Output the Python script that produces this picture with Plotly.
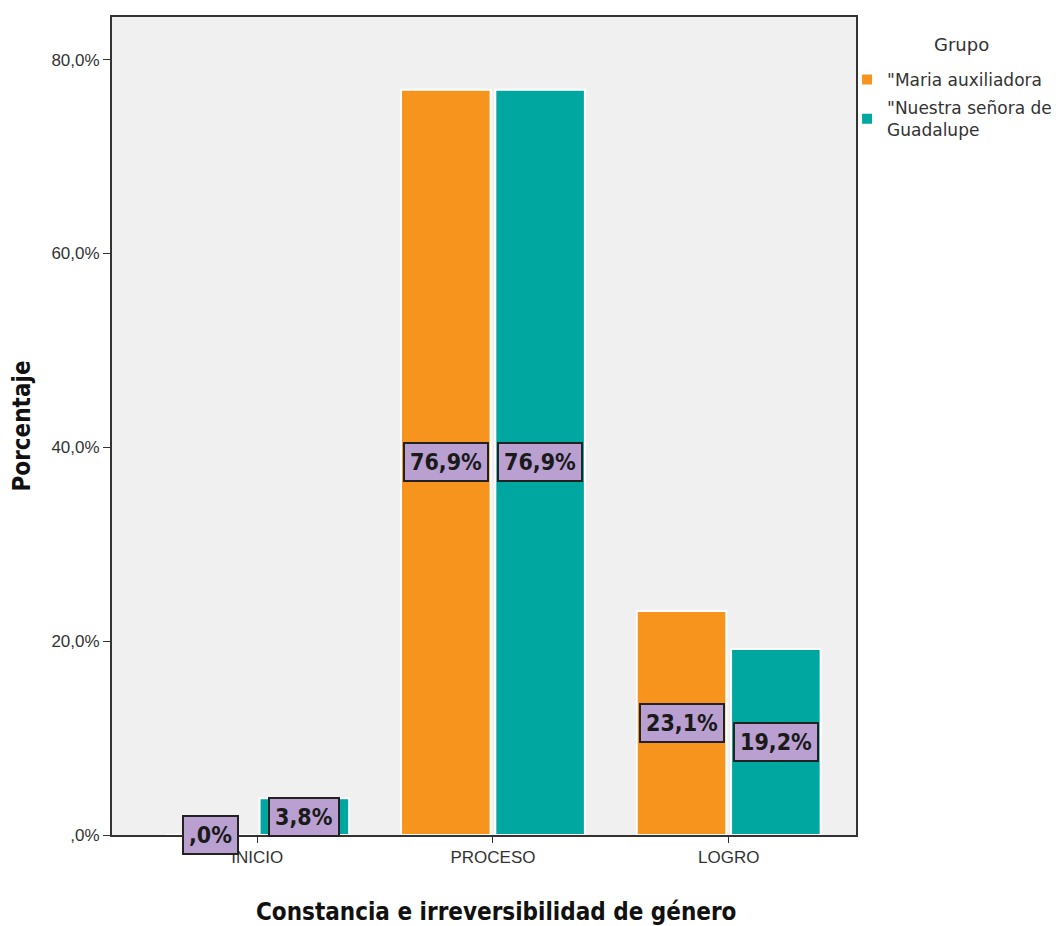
import plotly.graph_objects as go

categories = ["INICIO", "PROCESO", "LOGRO"]
series_names = ['"Maria auxiliadora', '"Nuestra señora de<br>Guadalupe']
maria = [0.0, 76.9, 23.1]
guadalupe = [3.8, 76.9, 19.2]
y_tick_vals = [0, 20, 40, 60, 80]
y_tick_text = [",0%", "20,0%", "40,0%", "60,0%", "80,0%"]

colors = ["#F7941D", "#00A6A0"]
cond_font = "DejaVu Sans Condensed, Roboto Condensed, Liberation Sans Narrow, DejaVu Sans, sans-serif"
tick_font = dict(family="Liberation Sans, Arial, sans-serif", size=17, color="#333333")
legend_font_family = "DejaVu Sans, Liberation Sans, Arial, sans-serif"


def fmt(v):
    s = f"{v:.1f}".replace(".", ",")
    if s.startswith("0"):
        s = s[1:]
    return s + "%"


fig = go.Figure()
for k, (name, vals, col) in enumerate(zip(series_names, [maria, guadalupe], colors)):
    fig.add_trace(go.Bar(
        x=categories, y=vals, name=name, legendgroup=f"g{k}",
        marker=dict(color=col, line=dict(color="white", width=2)),
        hoverinfo="skip",
    ))

offsets = [-0.2, 0.2]
for s, vals in enumerate([maria, guadalupe]):
    for i, v in enumerate(vals):
        fig.add_annotation(
            x=i + offsets[s], y=v / 2, xref="x", yref="y",
            text=fmt(v), showarrow=False,
            font=dict(family=cond_font, size=23, color="#1a1a1a", weight="bold"),
            bgcolor="#B9A0D0", bordercolor="#222222", borderwidth=2, borderpad=5,
        )

W, H = 1056, 918
L, T = 102, 7
PW, PH = 750, 820

# axis title and legend title as annotations
fig.add_annotation(
    x=0.5, y=0, xref="paper", yref="paper", xshift=12, yshift=-77,
    xanchor="center", yanchor="middle", showarrow=False,
    text="Constancia e irreversibilidad de género",
    font=dict(family=cond_font, size=24, color="#111111", weight="bold"),
)
fig.add_annotation(
    x=1.0, y=1.0, xref="paper", yref="paper", xshift=105, yshift=-27,
    xanchor="center", yanchor="middle", showarrow=False,
    text="Grupo",
    font=dict(family=legend_font_family, size=18, color="#333333"),
)

fig.update_layout(
    width=W, height=H,
    paper_bgcolor="white", plot_bgcolor="#F0F0F0",
    margin=dict(l=L, r=W - L - PW, t=T, b=H - T - PH),
    barmode="group", bargap=0.2, bargroupgap=0.05,
    showlegend=True,
    legend=dict(
        x=0.988, xanchor="left", y=0.945, yanchor="top",
        font=dict(family=legend_font_family, size=17, color="#333333"),
        itemsizing="constant", tracegroupgap=3, itemwidth=30,
        traceorder="grouped",
        bgcolor="rgba(0,0,0,0)",
    ),
    xaxis=dict(
        range=[-0.616, 2.54], showline=True, linecolor="#333333", linewidth=2, mirror=True,
        ticks="outside", ticklen=6, tickcolor="#333333", tickfont=tick_font,
        showgrid=False, zeroline=False,
    ),
    yaxis=dict(
        range=[0, 84.4], showline=True, linecolor="#333333", linewidth=2, mirror=True,
        ticks="outside", ticklen=7, tickcolor="#333333", tickfont=tick_font,
        tickvals=y_tick_vals, ticktext=y_tick_text,
        showgrid=False, zeroline=False,
        title=dict(text="Porcentaje", standoff=20,
                   font=dict(family=cond_font, size=24, color="#111111", weight="bold")),
    ),
)

fig.write_html("out.html")
